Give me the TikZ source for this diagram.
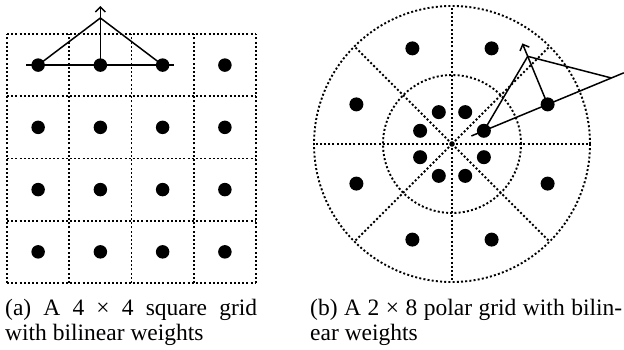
\documentclass[tikz,border=0pt]{standalone}
\usepackage{fontspec}
\setmainfont{Liberation Serif}
\usetikzlibrary{arrows.meta,calc}
\begin{document}
\begin{tikzpicture}[x=1pt,y=1pt,
  gridline/.style={line width=1.9pt, dash pattern=on 2pt off 2.2pt, black},
  sdot/.style={circle, fill=black, inner sep=0pt, minimum size=13.5pt},
  pdot/.style={circle, fill=black, inner sep=0pt, minimum size=14pt},
  cdot/.style={circle, fill=black, inner sep=0pt, minimum size=5.5pt},
  wline/.style={line width=1.5pt, black},
  warrow/.style={wline, -{Straight Barb[length=5pt,width=10pt]}},
  captxt/.style={inner sep=0pt, anchor=base west, align=justify,
    font=\fontsize{23.5}{25}\selectfont}]
\useasboundingbox (0,0) rectangle (624,350);
% ---------- (a) square grid ----------
\foreach \i in {0,...,4} {
  \draw[gridline] ({7+62.25*\i},67) -- ({7+62.25*\i},316);
  \draw[gridline] (7,{67+62.25*\i}) -- (256,{67+62.25*\i});
}
\foreach \i in {1,...,4} {
  \foreach \j in {1,...,4} {
    \node[sdot] (s\i\j) at ({7+62.25*(\i-0.5)},{67+62.25*(\j-0.5)}) {};
  }
}
\coordinate (ha) at (26,284.9);
\coordinate (hb) at (174,284.9);
\coordinate (apexa) at ({7+62.25*1.5},332);
\coordinate (tipa) at ({7+62.25*1.5},344);
\draw[wline] (ha) -- (hb);
\draw[wline] (s14.center) -- (apexa) -- (s34.center);
\draw[warrow] (s24.center) -- (tipa);
% ---------- (b) polar grid ----------
\coordinate (pc) at (452,206);
\draw[gridline] (pc) circle[radius=69];
\draw[gridline] (pc) circle[radius=138];
\foreach \a in {0,45,...,315} {
  \draw[gridline] (pc) -- ++(\a:138);
}
\node[cdot] (pcd) at (pc) {};
\foreach \k in {0,...,7} {
  \node[pdot] (pin\k) at ($(pc)+({22.5+45*\k}:34.5)$) {};
  \node[pdot] (pout\k) at ($(pc)+({22.5+45*\k}:103.5)$) {};
}
\coordinate (pla) at ($(pc)+(22.5:21)$);
\coordinate (plb) at ($(pc)+(22.5:186)$);
\coordinate (pfar) at ($(pc)+(22.5:172.5)$);
\coordinate (papex) at ($(pout0)+(112.5:52)$);
\coordinate (ptip) at ($(pout0)+(112.5:66)$);
\draw[wline] (pla) -- (plb);
\draw[wline] (pin0.center) -- (papex) -- (pfar);
\draw[warrow] (pout0.center) -- (ptip);
% ---------- captions ----------
\node[captxt, text width=252pt] (capa) at (5,34)
  {\tolerance=10000\relax\hyphenpenalty=10000\relax
   (a) A 4 × 4 square grid\linebreak with bilinear weights};
\node[captxt, text width=312pt] (capb) at (310,34)
  {\tolerance=10000\relax\hyphenpenalty=10000\relax
   (b) A 2 × 8 polar grid with bilin-\linebreak ear weights};
\end{tikzpicture}
\end{document}
